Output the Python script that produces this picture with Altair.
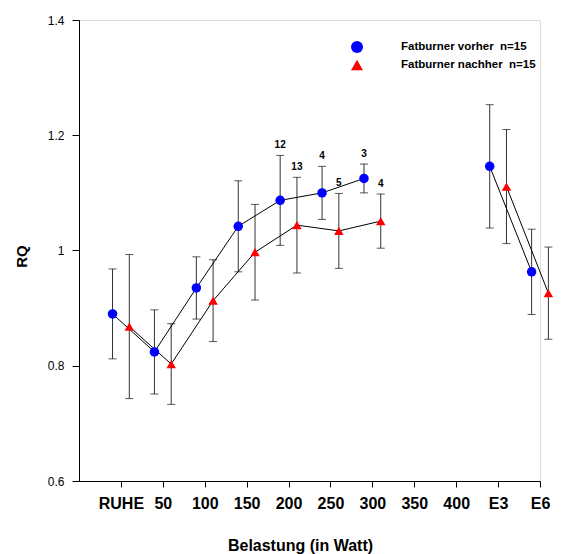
import json
import altair as alt
import pandas as pd

# ---- data ----
axis_labels = ["", "RUHE", "50", "100", "150", "200", "250", "300", "350", "400", "E3", "E6"]
stages = ["RUHE", "50", "100", "150", "200", "250", "300", "E3", "E6"]
stage_index = [1, 2, 3, 4, 5, 6, 7, 10, 11]
stage_segment = [1, 1, 1, 1, 1, 1, 1, 2, 2]

vorher_mean = [0.890, 0.824, 0.935, 1.042, 1.087, 1.100, 1.125, 1.146, 0.963]
vorher_err = [0.078, 0.073, 0.054, 0.079, 0.078, 0.046, 0.025, 0.107, 0.074]
vorher_n = ["", "", "", "", "12", "4", "3", "", ""]

nachher_mean = [0.868, 0.803, 0.913, 0.997, 1.044, 1.034, 1.051, 1.111, 0.926]
nachher_err = [0.125, 0.070, 0.071, 0.083, 0.083, 0.065, 0.047, 0.099, 0.080]
nachher_n = ["", "", "", "", "13", "5", "4", "", ""]

series_names = ["Fatburner vorher\u00a0 n=15", "Fatburner nachher\u00a0 n=15"]
series_offset = [-0.2, 0.2]
series_colors = ["#0000ff", "#ff0000"]
series_shapes = ["circle", "triangle-up"]

rows = []
for s, (means, errs, ns) in enumerate([(vorher_mean, vorher_err, vorher_n),
                                       (nachher_mean, nachher_err, nachher_n)]):
    for i, st in enumerate(stages):
        rows.append({
            "series": series_names[s],
            "stage": st,
            "pos": stage_index[i] + series_offset[s],
            "mean": means[i],
            "lo": means[i] - errs[i],
            "hi": means[i] + errs[i],
            "n": ns[i],
            "grp": f"{s}-{stage_segment[i]}",
        })
df = pd.DataFrame(rows)

FONT = "Liberation Sans"
label_expr = f"{json.dumps(axis_labels)}[datum.value]"

x = alt.X("pos:Q",
          scale=alt.Scale(domain=[0, 11], nice=False, zero=False),
          axis=alt.Axis(values=list(range(1, 12)), labelExpr=label_expr,
                        title="Belastung (in Watt)", grid=False,
                        domainColor="black", tickColor="black", tickSize=6,
                        labelFont=FONT, labelFontSize=16, labelFontWeight="bold",
                        labelColor="black", labelPadding=8, labelFlush=False,
                        titleFont=FONT, titleFontSize=16, titleFontWeight="bold",
                        titleColor="black", titleX=221, titleY=64,
                        titleBaseline="middle", titleAlign="center"))
y_axis = alt.Axis(values=[0.6, 0.8, 1.0, 1.2, 1.4], format="~g", title="RQ",
                  grid=False, domainColor="black", tickColor="black", tickSize=7,
                  labelFont=FONT, labelFontSize=12, labelColor="black",
                  labelPadding=8,
                  titleFont=FONT, titleFontSize=15, titleFontWeight="bold",
                  titleColor="black", titleX=-58, titleY=236, titleAngle=270,
                  titleBaseline="middle", titleAlign="center")
yscale = alt.Scale(domain=[0.6, 1.4], nice=False, zero=False)

base = alt.Chart(df)

bars = base.mark_rule(color="#333", strokeWidth=1).encode(
    x=x,
    y=alt.Y("lo:Q", scale=yscale, axis=y_axis),
    y2="hi:Q",
)
caps_top = base.mark_tick(orient="horizontal", size=8, thickness=1, color="#111").encode(
    x="pos:Q", y=alt.Y("hi:Q", scale=yscale))
caps_bot = base.mark_tick(orient="horizontal", size=8, thickness=1, color="#111").encode(
    x="pos:Q", y=alt.Y("lo:Q", scale=yscale))

lines = base.mark_line(color="black", strokeWidth=1).encode(
    x="pos:Q", y=alt.Y("mean:Q", scale=yscale), detail="grp:N", order="pos:Q")

points = base.mark_point(filled=True, opacity=1, size=90, strokeWidth=0).encode(
    x="pos:Q",
    y=alt.Y("mean:Q", scale=yscale),
    color=alt.Color("series:N",
                    scale=alt.Scale(domain=series_names, range=series_colors),
                    legend=alt.Legend(title=None, orient="none", legendX=272, legendY=21,
                                      labelFont=FONT, labelFontSize=11.5,
                                      labelFontWeight="bold", labelColor="black",
                                      symbolSize=144, labelOffset=38, rowPadding=6,
                                      padding=0, symbolStrokeWidth=0)),
    shape=alt.Shape("series:N",
                    scale=alt.Scale(domain=series_names, range=series_shapes)),
)

texts = base.mark_text(font=FONT, fontSize=10, fontWeight="bold", color="black",
                       baseline="middle", dy=-10).encode(
    x="pos:Q", y=alt.Y("hi:Q", scale=yscale), text="n:N")

chart = alt.layer(bars, caps_top, caps_bot, lines, points, texts).properties(
    width=461, height=461,
    autosize=alt.AutoSizeParams(type="none"),
    padding={"left": 79, "top": 20, "right": 26, "bottom": 73},
).configure_view(stroke=None).configure(background="white")

chart.save("out.html", embed_options={"renderer": "svg", "actions": False})
